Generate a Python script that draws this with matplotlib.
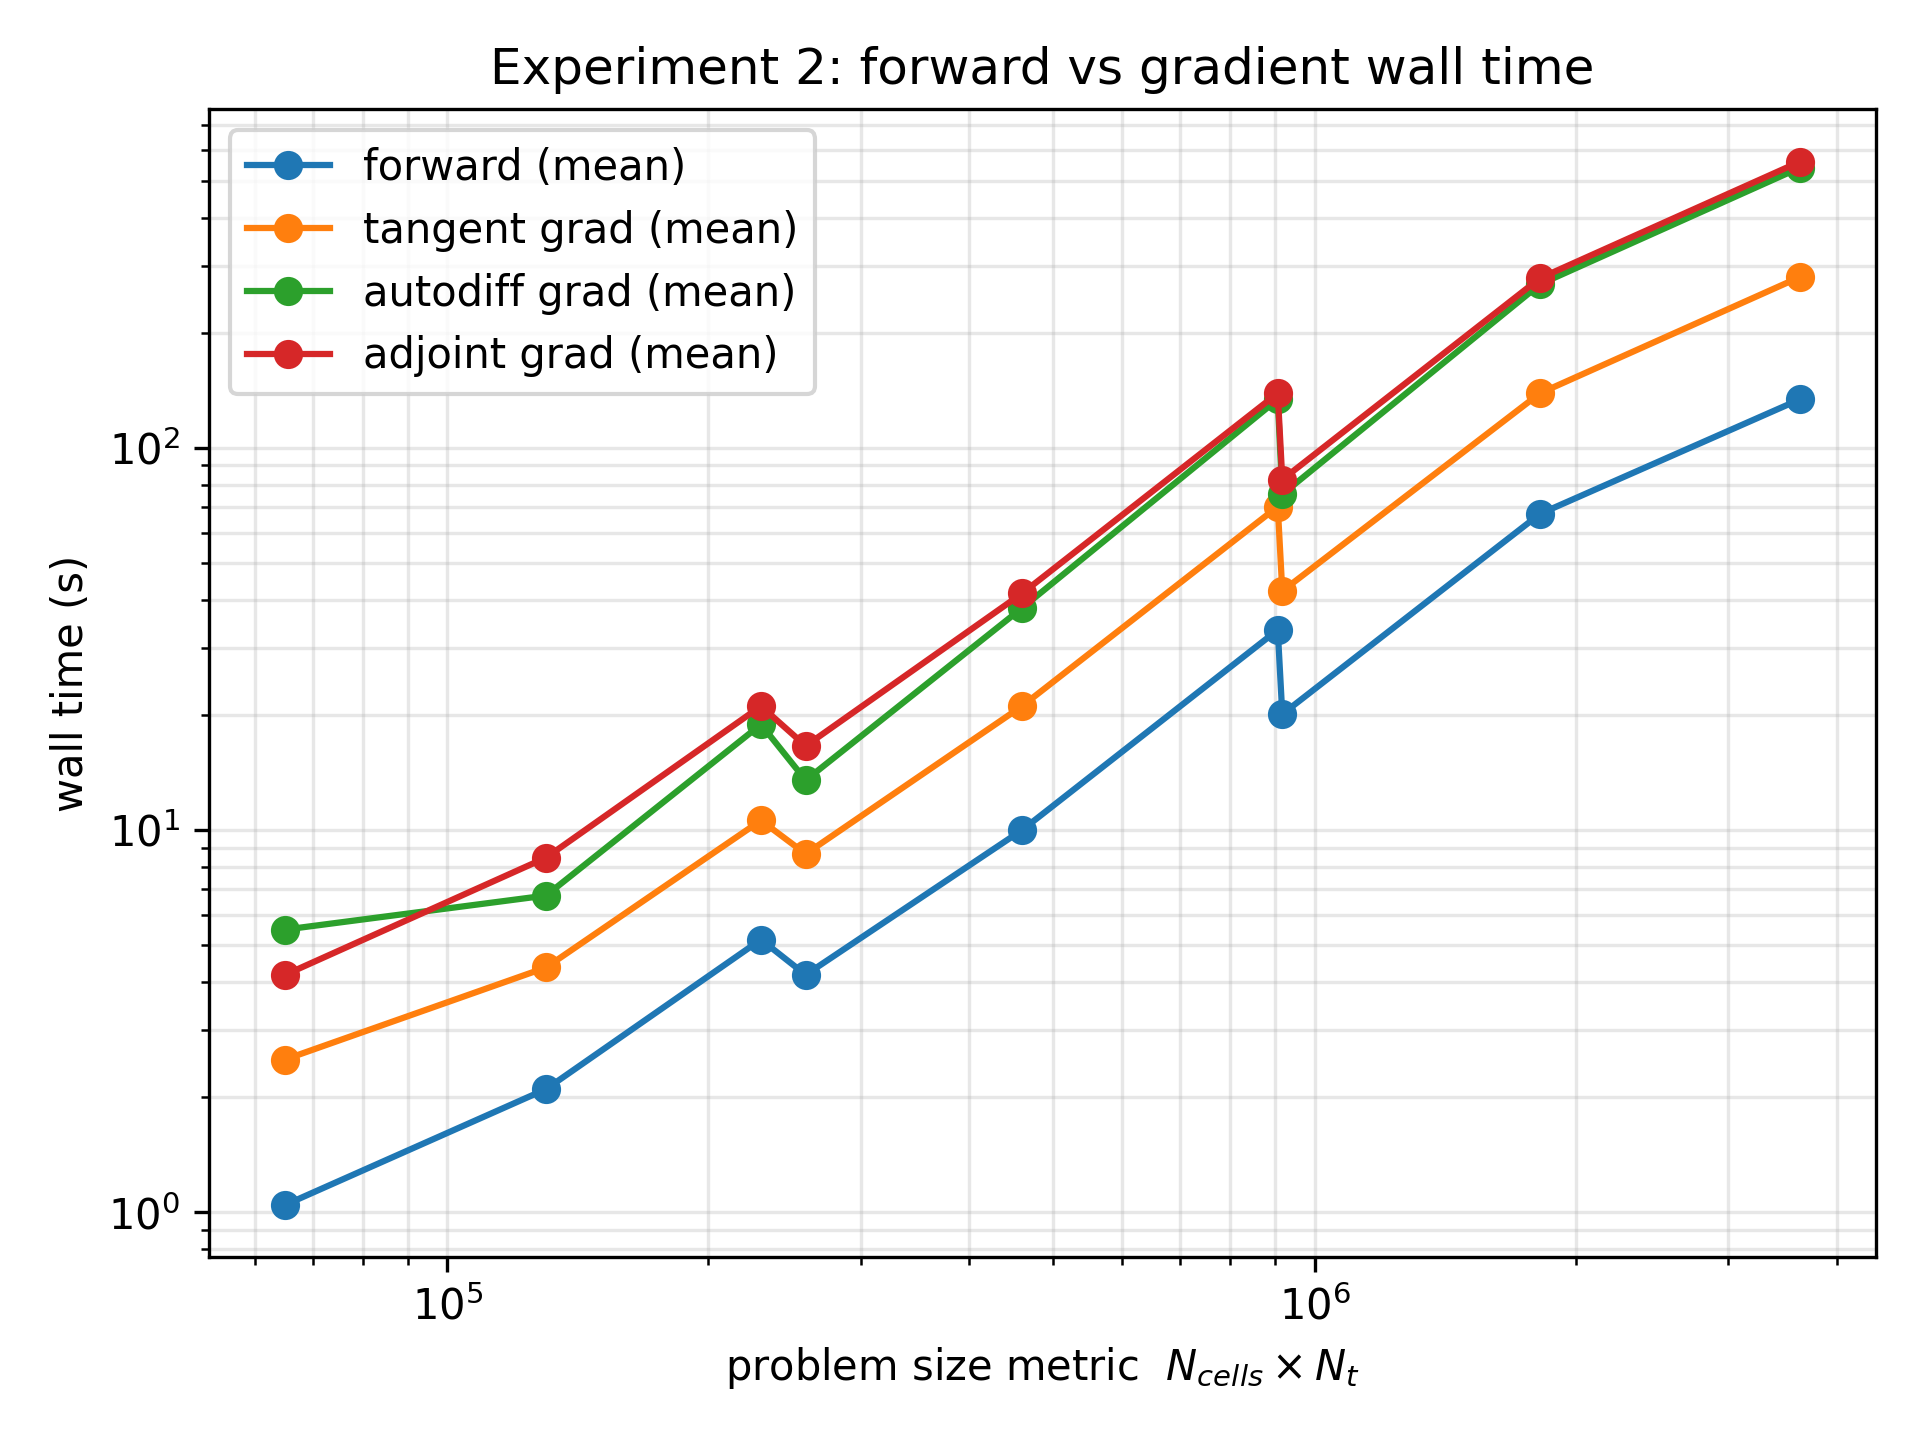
import matplotlib
matplotlib.use("Agg")
import matplotlib.pyplot as plt

# problem size N_cells * N_t
sizes = [65000, 130000, 230000, 259000, 460000, 907000, 918000, 1820000, 3630000]

forward_mean = [1.045, 2.10, 5.17, 4.18, 10.0, 33.4, 20.1, 67.2, 134]
tangent_mean = [2.51, 4.37, 10.6, 8.66, 21.1, 70.2, 42.2, 139, 280]
autodiff_mean = [5.49, 6.74, 18.9, 13.5, 38.1, 134, 75.6, 268, 541]
adjoint_mean = [4.18, 8.47, 21.1, 16.6, 41.6, 139, 82.6, 278, 561]

fig, ax = plt.subplots(figsize=(6.4, 4.8), dpi=300)

ax.plot(sizes, forward_mean, marker="o", label="forward (mean)")
ax.plot(sizes, tangent_mean, marker="o", label="tangent grad (mean)")
ax.plot(sizes, autodiff_mean, marker="o", label="autodiff grad (mean)")
ax.plot(sizes, adjoint_mean, marker="o", label="adjoint grad (mean)")

ax.set_xscale("log")
ax.set_yscale("log")
ax.grid(True, which="both", alpha=0.3)
ax.set_xlabel(r"problem size metric  $N_{cells} \times N_t$")
ax.set_ylabel("wall time (s)")
ax.set_title("Experiment 2: forward vs gradient wall time")
ax.legend()

fig.subplots_adjust(left=0.109, right=0.977, top=0.924, bottom=0.127)
fig.savefig("out.png", dpi=300)
